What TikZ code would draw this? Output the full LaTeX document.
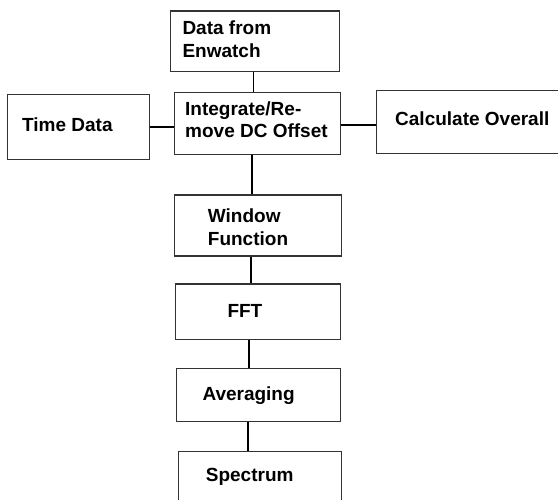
\documentclass[tikz,border=0pt]{standalone}
\usepackage{fontspec}
\setmainfont{Liberation Sans}
\begin{document}
\begin{tikzpicture}[x=1pt,y=-1pt,
  box/.style={draw=black!80, line width=1.1pt, inner sep=0pt, fill=white},
  conn/.style={draw=black, line width=1.7pt},
  txt/.style={inner sep=0pt, anchor=base west, font=\fontsize{19}{23}\selectfont\bfseries}]
\useasboundingbox (0,0) rectangle (558,499);
\clip (0,0) rectangle (558,499);
% boxes
\node[box, minimum width=168.3pt, minimum height=60.7pt] (data) at (254.9,41.3) {};
\node[box, minimum width=166pt, minimum height=61.7pt] (int) at (257.3,123.2) {};
\node[box, minimum width=141.7pt, minimum height=64.7pt] (time) at (78.2,126.7) {};
\node[box, minimum width=185pt, minimum height=62.6pt] (calc) at (469.3,122) {};
\node[box, minimum width=167.4pt, minimum height=61pt] (win) at (258,225.5) {};
\node[box, minimum width=164.6pt, minimum height=55.7pt] (fft) at (258,311.8) {};
\node[box, minimum width=163.6pt, minimum height=53.4pt] (avg) at (258.5,395) {};
\node[box, minimum width=163.4pt, minimum height=60pt] (spec) at (260,481.7) {};
% connectors
\draw[conn] ([xshift=-1.5pt]data.south) -- ([xshift=-1.5pt]data.south |- int.north);
\draw[conn] (time.east) -- (time.east -| int.west);
\draw[conn] ([yshift=-3pt]calc.west) -- ([yshift=-3pt]calc.west -| int.east);
\draw[conn] ([xshift=-5pt]int.south) -- ([xshift=-5pt]int.south |- win.north);
\draw[conn] ([xshift=-7.3pt]win.south) -- ([xshift=-7.3pt]win.south |- fft.north);
\draw[conn] ([xshift=-8.7pt]fft.south) -- ([xshift=-8.7pt]fft.south |- avg.north);
\draw[conn] ([xshift=-10.2pt]avg.south) -- ([xshift=-10.2pt]avg.south |- spec.north);
% texts
\node[txt] (tdata1) at (182.3,34.3) {Data from};
\node[txt] (tdata2) at (182.3,57.3) {Enwatch};
\node[txt] (tint1) at (185,115) {Integrate/Re-};
\node[txt] (tint2) at (185,137.3) {move DC Offset};
\node[txt] (ttime) at (22,131.7) {Time Data};
\node[txt] (tcalc) at (395,125.7) {Calculate Overall};
\node[txt] (twin1) at (207.7,222.3) {Window};
\node[txt] (twin2) at (207.7,245) {Function};
\node[txt] (tfft) at (227.3,317.3) {FFT};
\node[txt] (tavg) at (202.3,400.7) {Averaging};
\node[txt] (tspec) at (205.7,481) {Spectrum};
\end{tikzpicture}
\end{document}
